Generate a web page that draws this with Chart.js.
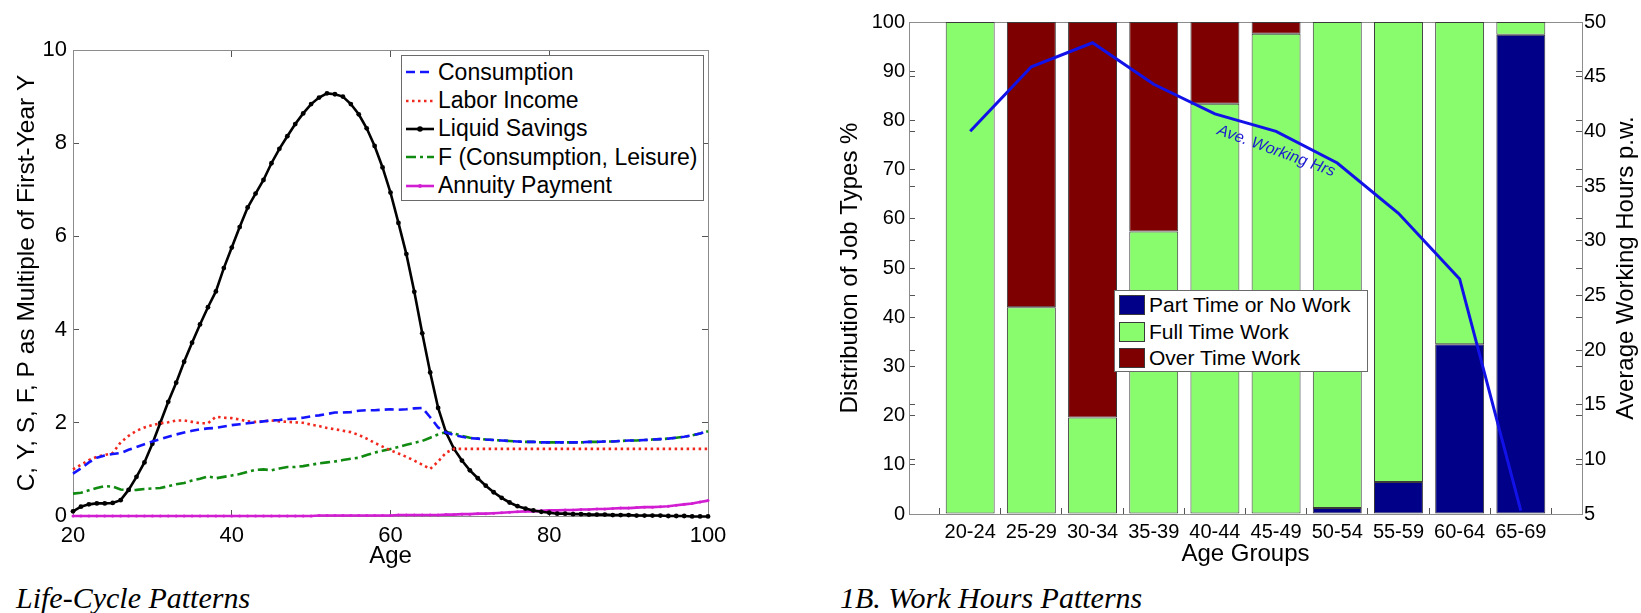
<!DOCTYPE html>
<html>
<head>
<meta charset="utf-8">
<title>Life-Cycle and Work Hours Patterns</title>
<script src="https://cdn.jsdelivr.net/npm/chart.js@4.4.1/dist/chart.umd.min.js"></script>
<style>
  html, body { margin: 0; padding: 0; background: #fff; }
  body { width: 1641px; height: 613px; position: relative; overflow: hidden; font-family: "Liberation Sans", Arial, sans-serif; }
  canvas { position: absolute; top: 0; }
  .legend { position: absolute; background: #fff; border: 1px solid #6a6a6a; box-sizing: border-box; color: #000; }
  .legend .row { display: flex; align-items: center; white-space: nowrap; }
  .legend svg { flex: none; }
  .caption { position: absolute; font-family: "Liberation Serif", "Times New Roman", serif; font-style: italic; font-size: 30px; line-height: 30px; white-space: nowrap; }
</style>
</head>
<body>
<canvas id="lifeCycle" width="770" height="580" style="left:0px"></canvas>
<canvas id="workHours" width="804" height="580" style="left:836px"></canvas>
<div id="legendLeft" class="legend" style="left:401px; top:55px; width:303px; height:146px; padding-top:2px; font-size:23px;"></div>
<div id="legendRight" class="legend" style="left:1114px; top:290px; width:254px; height:82px; padding-top:1px; font-size:21px;"></div>
<div class="caption" style="left:16px; top:583px;">Life-Cycle Patterns</div>
<div class="caption" style="left:840px; top:583px;">1B. Work Hours Patterns</div>
<script>
// ---- left chart: life-cycle profiles (multiples of first-year income) ----
const ages = [20, 21, 22, 23, 24, 25, 26, 27, 28, 29,
  30, 31, 32, 33, 34, 35, 36, 37, 38, 39,
  40, 41, 42, 43, 44, 45, 46, 47, 48, 49,
  50, 51, 52, 53, 54, 55, 56, 57, 58, 59,
  60, 61, 62, 63, 64, 65, 66, 67, 68, 69,
  70, 71, 72, 73, 74, 75, 76, 77, 78, 79,
  80, 81, 82, 83, 84, 85, 86, 87, 88, 89,
  90, 91, 92, 93, 94, 95, 96, 97, 98, 99, 100];

const consumption = [0.91, 1.02, 1.15, 1.25, 1.30, 1.33, 1.35, 1.42, 1.48, 1.54,
  1.60, 1.65, 1.70, 1.75, 1.79, 1.83, 1.86, 1.88, 1.89, 1.92,
  1.95, 1.97, 1.99, 2.01, 2.03, 2.05, 2.06, 2.08, 2.09, 2.11,
  2.14, 2.16, 2.19, 2.22, 2.22, 2.23, 2.26, 2.27, 2.27, 2.28,
  2.29, 2.28, 2.29, 2.31, 2.32, 2.12, 1.90, 1.79, 1.74, 1.70,
  1.67, 1.66, 1.64, 1.63, 1.62, 1.61, 1.60, 1.59, 1.59, 1.58,
  1.58, 1.58, 1.58, 1.58, 1.58, 1.59, 1.59, 1.60, 1.60, 1.61,
  1.62, 1.62, 1.63, 1.64, 1.65, 1.66, 1.68, 1.70, 1.73, 1.77, 1.82];

const laborIncome = [1.00, 1.10, 1.20, 1.27, 1.31, 1.35, 1.58, 1.72, 1.83, 1.90,
  1.95, 1.99, 2.01, 2.05, 2.05, 2.02, 1.99, 1.99, 2.13, 2.11,
  2.10, 2.07, 2.03, 2.02, 2.03, 2.05, 2.03, 2.02, 2.01, 2.00,
  1.96, 1.93, 1.89, 1.86, 1.83, 1.80, 1.74, 1.66, 1.57, 1.49,
  1.41, 1.34, 1.27, 1.19, 1.10, 1.01, 1.17, 1.36, 1.44, 1.44,
  1.44, 1.44, 1.44, 1.44, 1.44, 1.44, 1.44, 1.44, 1.44, 1.44,
  1.44, 1.44, 1.44, 1.44, 1.44, 1.44, 1.44, 1.44, 1.44, 1.44,
  1.44, 1.44, 1.44, 1.44, 1.44, 1.44, 1.44, 1.44, 1.44, 1.44, 1.44];

const liquidSavings = [0.10, 0.20, 0.25, 0.27, 0.27, 0.28, 0.34, 0.56, 0.84, 1.15,
  1.55, 2.00, 2.45, 2.86, 3.31, 3.72, 4.11, 4.48, 4.82, 5.32,
  5.76, 6.20, 6.62, 6.92, 7.21, 7.57, 7.88, 8.15, 8.41, 8.64,
  8.84, 8.98, 9.07, 9.05, 9.00, 8.84, 8.62, 8.32, 7.94, 7.48,
  6.94, 6.29, 5.62, 4.81, 3.92, 3.08, 2.32, 1.79, 1.44, 1.19,
  0.98, 0.81, 0.65, 0.51, 0.39, 0.29, 0.21, 0.16, 0.12, 0.09,
  0.07, 0.05, 0.05, 0.04, 0.04, 0.03, 0.03, 0.03, 0.02, 0.02,
  0.02, 0.01, 0.01, 0.01, 0.01, 0.00, 0.00, 0.00, -0.01, -0.01, -0.01];

const felicity = [0.48, 0.50, 0.55, 0.60, 0.64, 0.63, 0.57, 0.55, 0.56, 0.58,
  0.59, 0.60, 0.64, 0.68, 0.71, 0.76, 0.80, 0.85, 0.81, 0.84,
  0.87, 0.90, 0.95, 0.99, 1.00, 0.98, 1.02, 1.05, 1.05, 1.07,
  1.10, 1.13, 1.15, 1.17, 1.20, 1.23, 1.25, 1.31, 1.36, 1.40,
  1.44, 1.48, 1.53, 1.57, 1.61, 1.68, 1.75, 1.80, 1.77, 1.72,
  1.68, 1.66, 1.64, 1.63, 1.62, 1.61, 1.60, 1.59, 1.59, 1.58,
  1.58, 1.58, 1.58, 1.58, 1.58, 1.59, 1.59, 1.60, 1.60, 1.61,
  1.62, 1.62, 1.63, 1.64, 1.65, 1.66, 1.68, 1.70, 1.73, 1.77, 1.82];

const annuity = [0.00, 0.00, 0.00, 0.00, 0.00, 0.00, 0.00, 0.00, 0.00, 0.00,
  0.00, 0.00, 0.00, 0.00, 0.00, 0.00, 0.00, 0.00, 0.00, 0.00,
  0.00, 0.00, 0.00, 0.00, 0.00, 0.00, 0.00, 0.00, 0.00, 0.00,
  0.00, 0.01, 0.01, 0.01, 0.01, 0.01, 0.01, 0.01, 0.01, 0.01,
  0.01, 0.02, 0.02, 0.02, 0.02, 0.02, 0.02, 0.03, 0.03, 0.04,
  0.04, 0.05, 0.05, 0.06, 0.07, 0.08, 0.09, 0.10, 0.10, 0.11,
  0.12, 0.12, 0.13, 0.13, 0.14, 0.14, 0.15, 0.15, 0.16, 0.17,
  0.17, 0.18, 0.19, 0.19, 0.20, 0.21, 0.23, 0.25, 0.27, 0.30, 0.33];

// ---- right chart: job type shares by age group + average hours ----
const ageGroups = ['20-24', '25-29', '30-34', '35-39', '40-44', '45-49', '50-54', '55-59', '60-64', '65-69'];
const partTimeShare = [0, 0, 0, 0, 0, 0, 1.2, 6.5, 34.5, 97.4];
const fullTimeShare = [100, 42.0, 19.6, 57.4, 83.4, 97.6, 98.8, 93.5, 65.5, 2.6];
const overTimeShare = [0, 58.0, 80.4, 42.6, 16.6, 2.4, 0, 0, 0, 0];
const avgHours = [40.0, 45.9, 48.1, 44.3, 41.6, 40.0, 37.1, 32.5, 26.5, 5.3];

const hoursNote = 'Ave. Working Hrs';
const hoursNoteGroup = 6;     // category slot (45-49) where the note sits
const hoursNoteValue = 38.2;  // on the hours axis

Chart.defaults.font.family = '"Liberation Sans", Arial, sans-serif';
Chart.defaults.color = '#000';

const xy = vals => ages.map((a, i) => ({ x: a, y: vals[i] }));
const padEnds = vals => [null, ...vals, null];

const lineSeries = [
  { label: 'Consumption', data: xy(consumption), borderColor: '#1414ff', borderDash: [9, 5], borderWidth: 2.6, pointRadius: 0 },
  { label: 'Labor Income', data: xy(laborIncome), borderColor: '#f0281e', borderDash: [2.5, 3.5], borderWidth: 2.6, pointRadius: 0 },
  { label: 'Liquid Savings', data: xy(liquidSavings), borderColor: '#000', backgroundColor: '#000', borderWidth: 2.6, pointRadius: 2.4, pointBorderWidth: 0 },
  { label: 'F (Consumption, Leisure)', data: xy(felicity), borderColor: '#108a10', borderDash: [10, 4, 3, 4], borderWidth: 2.6, pointRadius: 0 },
  { label: 'Annuity Payment', data: xy(annuity), borderColor: '#d21ed2', backgroundColor: '#d21ed2', borderWidth: 2.6, pointRadius: 1.5, pointBorderWidth: 0 }
];

const inTicks = len => ({ display: true, drawOnChartArea: false, drawTicks: true, tickLength: len, color: '#555', lineWidth: 1 });
const frame = { display: true, color: '#8c8c8c', width: 1 };

new Chart(document.getElementById('lifeCycle'), {
  type: 'line',
  data: { datasets: lineSeries.map(d => Object.assign({ tension: 0, fill: false, clip: 4 }, d)) },
  options: {
    responsive: false,
    animation: false,
    layout: { padding: { left: 13, top: 50, right: 62, bottom: 9 } },
    plugins: { legend: { display: false }, tooltip: { enabled: false } },
    scales: {
      x: {
        type: 'linear', min: 20, max: 100,
        ticks: { stepSize: 20, font: { size: 22 }, padding: 13, maxRotation: 0 },
        grid: inTicks(-6), border: frame,
        title: { display: true, text: 'Age', font: { size: 24, lineHeight: 1.2 }, padding: 0 },
        afterFit: s => { s.height = 55; }
      },
      y: {
        min: 0, max: 10,
        ticks: { stepSize: 2, font: { size: 22 }, padding: 12 },
        grid: inTicks(-6), border: frame,
        title: { display: true, text: 'C, Y, S, F, P as Multiple of First-Year Y', font: { size: 24.5, lineHeight: 1.2 }, padding: 0 },
        afterFit: s => { s.width = 60; }
      },
      xTop: {
        type: 'linear', axis: 'x', position: { y: 10 }, min: 20, max: 100,
        ticks: { stepSize: 20, display: false },
        grid: inTicks(6), border: frame,
        afterFit: s => { s.height = 0; }
      },
      yRight: {
        type: 'linear', axis: 'y', position: { x: 100 }, min: 0, max: 10,
        ticks: { stepSize: 2, display: false },
        grid: inTicks(6), border: frame,
        afterFit: s => { s.width = 0; }
      }
    }
  }
});

// right-hand title reads bottom-to-top like the left one
const rightTitle = {
  id: 'rightTitle',
  afterDraw(chart) {
    const s = chart.scales.y2, ctx = chart.ctx, a = chart.chartArea;
    ctx.save();
    ctx.translate(s.right - 14, (a.top + a.bottom) / 2);
    ctx.rotate(-Math.PI / 2);
    ctx.font = '24px "Liberation Sans", Arial, sans-serif';
    ctx.fillStyle = '#000';
    ctx.textAlign = 'center';
    ctx.textBaseline = 'middle';
    ctx.fillText('Average Working Hours p.w.', 0, 0);
    ctx.restore();
  }
};

const hoursLabel = {
  id: 'hoursLabel',
  afterDatasetsDraw(chart) {
    const ctx = chart.ctx;
    const x = chart.scales.x.getPixelForValue(hoursNoteGroup);
    const y = chart.scales.y2.getPixelForValue(hoursNoteValue);
    ctx.save();
    ctx.translate(x, y);
    ctx.rotate(20 * Math.PI / 180);
    ctx.font = 'italic 16px "Liberation Sans", Arial, sans-serif';
    ctx.fillStyle = '#1a1ad0';
    ctx.textAlign = 'center';
    ctx.textBaseline = 'middle';
    ctx.fillText(hoursNote, 0, 0);
    ctx.restore();
  }
};

const barStyle = { type: 'bar', borderColor: '#3a3a3a', borderWidth: 1, borderSkipped: false, barPercentage: 0.8, categoryPercentage: 1, order: 1, yAxisID: 'y' };
const barSeries = [
  Object.assign({ label: 'Part Time or No Work', data: padEnds(partTimeShare), backgroundColor: '#000088' }, barStyle),
  Object.assign({ label: 'Full Time Work', data: padEnds(fullTimeShare), backgroundColor: '#88fc6c' }, barStyle),
  Object.assign({ label: 'Over Time Work', data: padEnds(overTimeShare), backgroundColor: '#7e0000' }, barStyle)
];

new Chart(document.getElementById('workHours'), {
  data: {
    labels: ['', ...ageGroups, ''],
    datasets: [
      ...barSeries,
      { type: 'line', label: 'Ave. Working Hrs', data: padEnds(avgHours), yAxisID: 'y2', order: 0,
        borderColor: '#1212e8', borderWidth: 3, pointRadius: 0, tension: 0, spanGaps: false }
    ]
  },
  options: {
    responsive: false,
    animation: false,
    layout: { padding: { left: 0, top: 18, right: 0, bottom: 11 } },
    plugins: { legend: { display: false }, tooltip: { enabled: false } },
    scales: {
      x: {
        type: 'category', offset: false, stacked: true,
        ticks: { font: { size: 20 }, padding: 12, autoSkip: false, maxRotation: 0 },
        grid: inTicks(-6), border: frame,
        title: { display: true, text: 'Age Groups', font: { size: 24, lineHeight: 1.2 }, padding: 0 },
        afterFit: s => { s.height = 55; }
      },
      y: {
        stacked: true, min: 0, max: 100,
        ticks: { stepSize: 10, font: { size: 20 }, padding: 10 },
        grid: inTicks(-6), border: frame,
        title: { display: true, text: 'Distribution of Job Types %', font: { size: 24, lineHeight: 1.2 }, padding: 0 },
        afterFit: s => { s.width = 73; }
      },
      y2: {
        position: 'right', min: 5, max: 50,
        ticks: { stepSize: 5, font: { size: 20 }, padding: 8 },
        grid: inTicks(-6), border: frame,
        afterFit: s => { s.width = 58; }
      },
      xTop: {
        type: 'category', axis: 'x', labels: ['', ...ageGroups, ''], offset: false, position: { y: 100 },
        ticks: { display: false, autoSkip: false },
        grid: inTicks(6), border: frame,
        afterFit: s => { s.height = 0; }
      },
      yMinorLeft: {
        type: 'linear', axis: 'y', position: { x: 0 }, min: 5, max: 50,
        ticks: { stepSize: 5, display: false },
        grid: inTicks(-6), border: { display: false },
        afterFit: s => { s.width = 0; }
      },
      yMinorRight: {
        type: 'linear', axis: 'y', position: { x: 11 }, min: 0, max: 100,
        ticks: { stepSize: 10, display: false },
        grid: inTicks(6), border: { display: false },
        afterFit: s => { s.width = 0; }
      }
    }
  },
  plugins: [rightTitle, hoursLabel]
});

// legends built from the dataset definitions
const legendLeft = document.getElementById('legendLeft');
lineSeries.forEach(ds => {
  const row = document.createElement('div');
  row.className = 'row';
  row.style.height = '28.4px';
  const dash = (ds.borderDash || []).join(' ');
  const dot = ds.pointRadius ? `<circle cx="14" cy="7" r="${ds.pointRadius + 0.4}" fill="${ds.borderColor}"/>` : '';
  row.innerHTML = `<svg width="30" height="14" style="margin:0 2px 0 4px"><line x1="0" y1="7" x2="28" y2="7" stroke="${ds.borderColor}" stroke-width="2.6" stroke-dasharray="${dash}"/>${dot}</svg><span>${ds.label}</span>`;
  legendLeft.appendChild(row);
});

const legendRight = document.getElementById('legendRight');
barSeries.forEach(ds => {
  const row = document.createElement('div');
  row.className = 'row';
  row.style.height = '26.5px';
  row.innerHTML = `<span style="display:inline-block;width:26px;height:20px;box-sizing:border-box;border:1px solid #3a3a3a;background:${ds.backgroundColor};margin:0 4px 0 4px"></span><span>${ds.label}</span>`;
  legendRight.appendChild(row);
});
</script>
</body>
</html>
